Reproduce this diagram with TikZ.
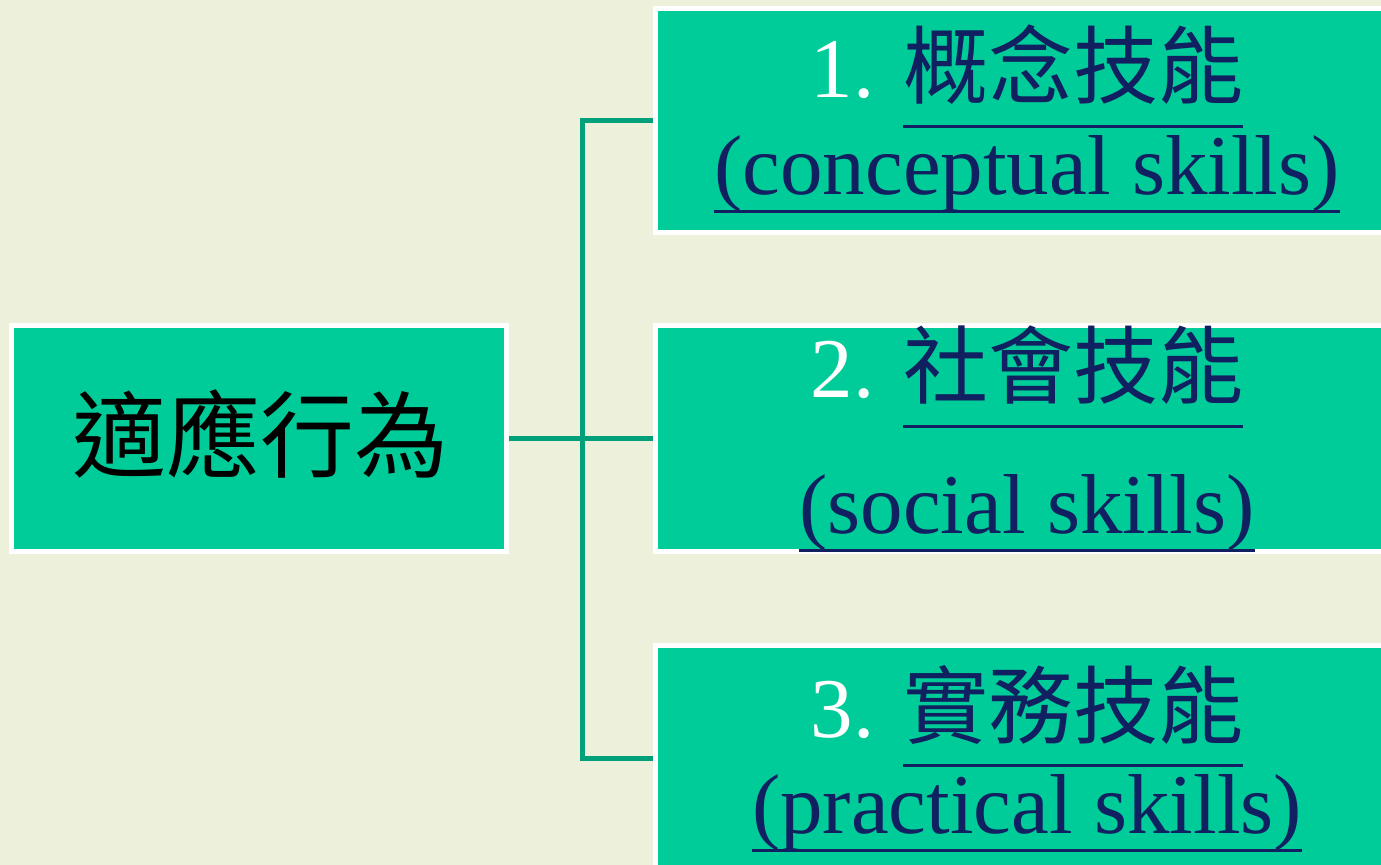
\documentclass[tikz,border=0pt]{standalone}
\usepackage{fontspec}
\setmainfont{Liberation Serif}
\newfontfamily\cjk{Noto Sans CJK TC}
\definecolor{bgcol}{HTML}{EDF0DB}
\definecolor{boxfill}{HTML}{00CC99}
\definecolor{linecol}{HTML}{00A07A}
\definecolor{navy}{HTML}{102060}
\newcommand\myul[2]{\leavevmode\setbox0=\hbox{#2}\rlap{\textcolor{navy}{\rule[-#1]{\wd0}{1.5pt}}}\box0}
\begin{document}
\begin{tikzpicture}[x=0.5pt,y=-0.5pt,
  box/.style={draw=white, line width=2.5pt, fill=boxfill, inner sep=0pt},
  conn/.style={draw=linecol, line width=2.5pt},
  big/.style={font=\fontsize{42.5}{50}\selectfont, inner sep=0pt}]
\fill[bgcol] (0,0) rectangle (1381,865);
\useasboundingbox (0,0) rectangle (1381,865);
% boxes
\node[box, minimum width=247.5pt, minimum height=113pt] (root) at (259,438.5) {};
\node[box, minimum width=372.25pt, minimum height=112pt] (b1) at (1027.75,120.5) {};
\node[box, minimum width=372.25pt, minimum height=113pt] (b2) at (1027.75,438.5) {};
\node[box, minimum width=372.25pt, minimum height=113pt] (b3) at (1027.75,758.5) {};
% connectors
\coordinate (j) at (582,438.5);
\draw[conn] (root.east) -- (b2.west);
\draw[conn] (b1.west) -| (j) |- (b3.west);
% texts
\node[font=\cjk\fontsize{47}{56}\selectfont, inner sep=0pt] (rt) at (260,434) {適應行為};
\node[big, anchor=base] (t1a) at (1027,98) {\color{white}1. {\cjk\myul{15.25pt}{\color{navy}概念技能}}};
\node[big, anchor=base] (t1b) at (1027,195) {\color{navy}\myul{9.25pt}{(conceptual skills)}};
\node[big, anchor=base] (t2a) at (1027,398) {\color{white}2. {\cjk\myul{15.25pt}{\color{navy}社會技能}}};
\node[big, anchor=base] (t2b) at (1027,534) {\color{navy}\myul{9.25pt}{(social skills)}};
\node[big, anchor=base] (t3a) at (1027,737) {\color{white}3. {\cjk\myul{14.75pt}{\color{navy}實務技能}}};
\node[big, anchor=base] (t3b) at (1027,833) {\color{navy}\myul{9.25pt}{(practical skills)}};
\end{tikzpicture}
\end{document}
